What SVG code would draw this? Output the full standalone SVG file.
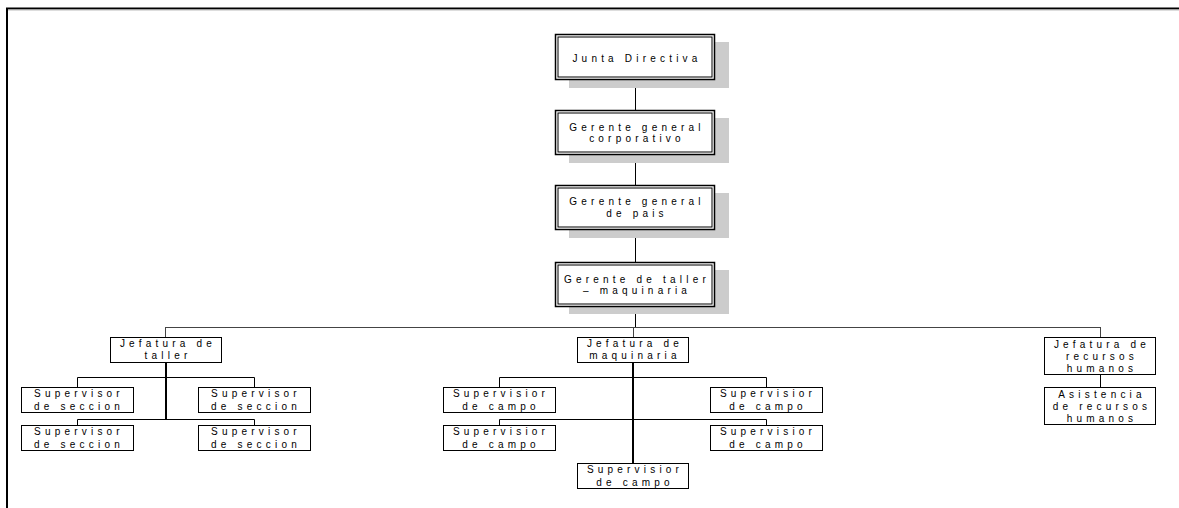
<svg xmlns="http://www.w3.org/2000/svg" width="1179" height="508" viewBox="0 0 1179 508">
<style>
.shadow{fill:#cccccc;stroke:none}
.outer{fill:#ffffff;stroke:#000;stroke-width:1.5}
.inner{fill:none;stroke:#000;stroke-width:1}
.box{fill:#ffffff;stroke:#000;stroke-width:1}
text{font-family:"Liberation Sans",Arial,sans-serif;font-size:10px;fill:#000;text-anchor:middle;letter-spacing:4.2px}
.c{fill:none;stroke:#000;stroke-width:1}
.cg{fill:none;stroke:#444;stroke-width:1}
.ct{fill:none;stroke:#000;stroke-width:2}
</style>
<rect x="0" y="0" width="1179" height="508" fill="#ffffff"/>
<path d="M7 508 V8.5 H1179" fill="none" stroke="#000" stroke-width="2"/>
<line x1="8" y1="10" x2="1179" y2="10" stroke="#bbbbbb" stroke-width="1"/>
<g id="connectors">
<path class="c" d="M635.5 80 V110 M635.5 155 V185 M635.5 230 V263 M635.5 307 V327"/>
<path class="cg" d="M165.5 327.5 H1100.5 M165.5 327 V337 M633.5 327 V337 M1100.5 327 V337"/>
<path class="ct" d="M166 362 V419"/>
<path class="c" d="M77.5 387 V377.5 H254.5 V387 M77.5 425 V419.5 H254.5 V425"/>
<path class="ct" d="M633 362 V463"/>
<path class="c" d="M499.5 387 V377.5 H766.5 V387 M499.5 425 V419.5 H766.5 V425"/>
<path class="c" d="M1100.5 375 V387"/>
</g>
<g id="junta">
<rect class="shadow" x="569" y="42" width="160" height="46"/>
<rect class="outer" x="555.5" y="34.5" width="159" height="45"/>
<rect class="inner" x="558" y="37" width="154" height="40"/>
<text x="637" y="61.5">Junta Directiva</text>
</g>
<g id="gerente-corporativo">
<rect class="shadow" x="569" y="118" width="160" height="45"/>
<rect class="outer" x="555.5" y="110.5" width="159" height="44"/>
<rect class="inner" x="558" y="113" width="154" height="39"/>
<text x="637" y="131">Gerente general</text>
<text x="637" y="142">corporativo</text>
</g>
<g id="gerente-pais">
<rect class="shadow" x="569" y="193" width="160" height="45"/>
<rect class="outer" x="555.5" y="185.5" width="159" height="44"/>
<rect class="inner" x="558" y="188" width="154" height="39"/>
<text x="637" y="205">Gerente general</text>
<text x="637" y="217">de pais</text>
</g>
<g id="gerente-taller">
<rect class="shadow" x="569" y="270" width="160" height="44"/>
<rect class="outer" x="555.5" y="262.5" width="159" height="44"/>
<rect class="inner" x="558" y="265" width="154" height="39"/>
<text x="637" y="283">Gerente de taller</text>
<text x="637" y="294">– maquinaria</text>
</g>
<g id="jefatura-taller">
<rect class="box" x="110.5" y="337.5" width="111" height="25"/>
<text x="168" y="347">Jefatura de</text>
<text x="168" y="359">taller</text>
</g>
<g id="sup-seccion-1">
<rect class="box" x="21.5" y="387.5" width="112" height="25"/>
<text x="79" y="397">Supervisor</text>
<text x="79" y="410">de seccion</text>
</g>
<g id="sup-seccion-2">
<rect class="box" x="198.5" y="387.5" width="112" height="25"/>
<text x="256" y="397">Supervisor</text>
<text x="256" y="410">de seccion</text>
</g>
<g id="sup-seccion-3">
<rect class="box" x="21.5" y="425.5" width="112" height="25"/>
<text x="79" y="435">Supervisor</text>
<text x="79" y="448">de seccion</text>
</g>
<g id="sup-seccion-4">
<rect class="box" x="198.5" y="425.5" width="112" height="25"/>
<text x="256" y="435">Supervisor</text>
<text x="256" y="448">de seccion</text>
</g>
<g id="jefatura-maquinaria">
<rect class="box" x="577.5" y="337.5" width="111" height="25"/>
<text x="635" y="347">Jefatura de</text>
<text x="635" y="359">maquinaria</text>
</g>
<g id="sup-campo-1">
<rect class="box" x="443.5" y="387.5" width="112" height="25"/>
<text x="501" y="397">Supervisior</text>
<text x="501" y="410">de campo</text>
</g>
<g id="sup-campo-2">
<rect class="box" x="710.5" y="387.5" width="112" height="25"/>
<text x="768" y="397">Supervisior</text>
<text x="768" y="410">de campo</text>
</g>
<g id="sup-campo-3">
<rect class="box" x="443.5" y="425.5" width="112" height="25"/>
<text x="501" y="435">Supervisior</text>
<text x="501" y="448">de campo</text>
</g>
<g id="sup-campo-4">
<rect class="box" x="710.5" y="425.5" width="112" height="25"/>
<text x="768" y="435">Supervisior</text>
<text x="768" y="448">de campo</text>
</g>
<g id="sup-campo-5">
<rect class="box" x="577.5" y="463.5" width="111" height="25"/>
<text x="635" y="473">Supervisior</text>
<text x="635" y="486">de campo</text>
</g>
<g id="jefatura-rrhh">
<rect class="box" x="1044.5" y="337.5" width="111" height="37"/>
<text x="1102" y="348">Jefatura de</text>
<text x="1102" y="360">recursos</text>
<text x="1102" y="372">humanos</text>
</g>
<g id="asistencia-rrhh">
<rect class="box" x="1044.5" y="387.5" width="111" height="37"/>
<text x="1102" y="398">Asistencia</text>
<text x="1102" y="410">de recursos</text>
<text x="1102" y="422">humanos</text>
</g>
</svg>
